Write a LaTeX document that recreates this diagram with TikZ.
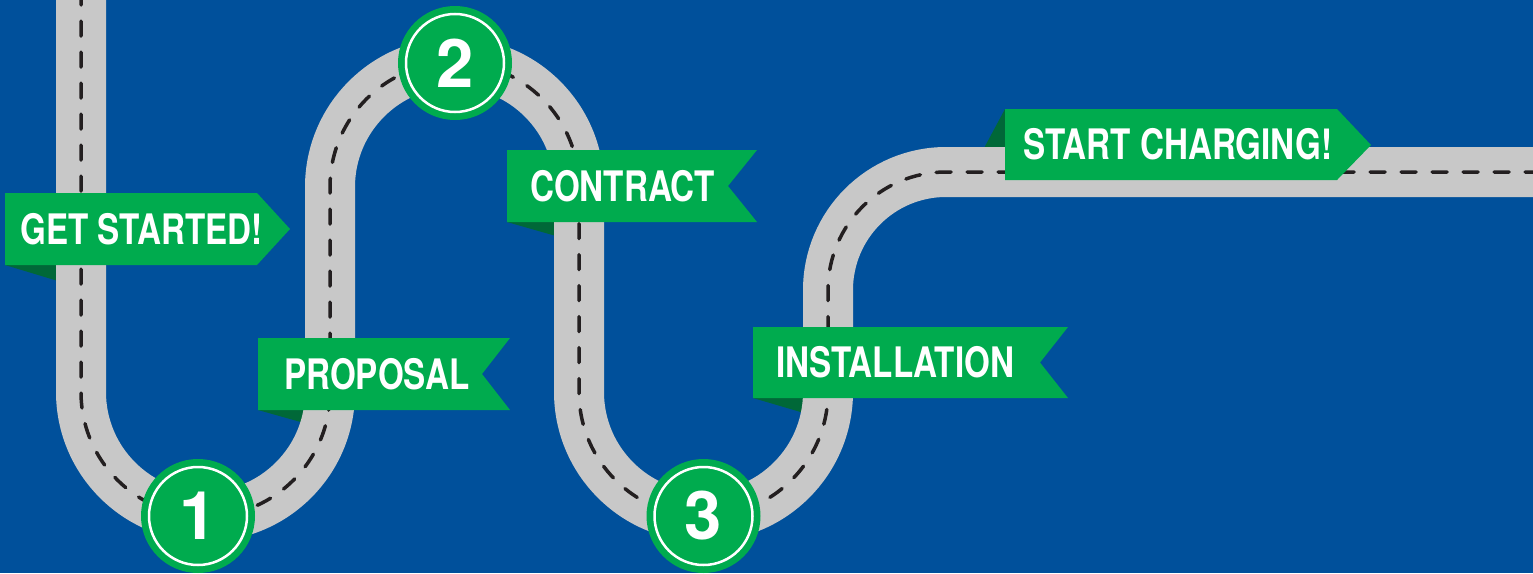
\documentclass[tikz,border=0pt]{standalone}
\usepackage{fontspec}
\newfontfamily\bannerfont[FakeStretch=0.79]{TeX Gyre Heros}
\newfontfamily\digitfont{TeX Gyre Heros}
\definecolor{bgblue}{RGB}{0,80,155}
\definecolor{roadgray}{RGB}{200,200,200}
\definecolor{bangreen}{RGB}{0,171,78}
\definecolor{folddark}{RGB}{0,104,56}
\definecolor{dashblack}{RGB}{35,31,32}
\tikzset{
  roadbed/.style={line width=50pt, draw=roadgray},
  roadline/.style={line width=3.5pt, draw=dashblack, dash pattern=on 15pt off 16pt, line cap=round},
  bannerbody/.style={fill=bangreen},
  bannerfold/.style={fill=folddark},
  bannertext/.style={anchor=west, inner sep=0pt, text=white, font=\bannerfont\bfseries\fontsize{42}{48}\selectfont},
  stepcircle/.style={circle, fill=bangreen, minimum size=114pt, inner sep=0pt, text=white, font=\digitfont\bfseries\fontsize{67}{70}\selectfont},
  stepring/.style={draw=white, line width=2.5pt}
}
\def\roadpath{(81,-10) -- (81,392) arc[start angle=180,end angle=0,radius=124.5] -- (330,187) arc[start angle=180,end angle=360,radius=124.5] -- (579,392) arc[start angle=180,end angle=0,radius=124.5] -- (828,290) arc[start angle=180,end angle=270,radius=118] -- (1545,172)}
\begin{document}
\begin{tikzpicture}[x=1pt,y=-1pt]
\useasboundingbox (0,0) rectangle (1533,573);
\clip (0,0) rectangle (1533,573);
\fill[bgblue] (0,0) rectangle (1533,573);
% folds (behind road)
\fill[bannerfold] (5,265) -- (58,265) -- (58,281) -- cycle;
\fill[bannerfold] (258,410) -- (306,410) -- (306,423.5) -- cycle;
\fill[bannerfold] (507,222) -- (556,222) -- (556,236) -- cycle;
\fill[bannerfold] (753,398) -- (804,398) -- (804,413) -- cycle;
\fill[bannerfold] (1005,109) -- (983,150) -- (1005,150) -- cycle;
% road
\draw[roadbed] \roadpath;
\draw[roadline] \roadpath;
% banners
\fill[bannerbody] (5,193) -- (257,193) -- (290,229) -- (257,265) -- (5,265) -- cycle;
\fill[bannerbody] (258,338) -- (510,338) -- (482,374) -- (510,410) -- (258,410) -- cycle;
\fill[bannerbody] (507,150) -- (757,150) -- (728,186) -- (757,222) -- (507,222) -- cycle;
\fill[bannerbody] (753,327) -- (1068,327) -- (1040,362.5) -- (1068,398) -- (753,398) -- cycle;
\fill[bannerbody] (1005,109) -- (1337,109) -- (1371,145) -- (1337,180) -- (1005,180) -- cycle;
\node[bannertext] (t1) at (20,229) {GET STARTED!};
\node[bannertext] (t2) at (284,374) {PROPOSAL};
\node[bannertext] (t3) at (530,186) {CONTRACT};
\node[bannertext] (t4) at (776,362.5) {INSTALLATION};
\node[bannertext] (t5) at (1023,144.5) {START CHARGING!};
% step circles
\node[stepcircle] (c1) at (198,516) {1};
\draw[stepring] (c1.center) circle (49);
\node[stepcircle] (c2) at (455,63) {2};
\draw[stepring] (c2.center) circle (49);
\node[stepcircle] (c3) at (703.5,516) {3};
\draw[stepring] (c3.center) circle (49);
\end{tikzpicture}
\end{document}
